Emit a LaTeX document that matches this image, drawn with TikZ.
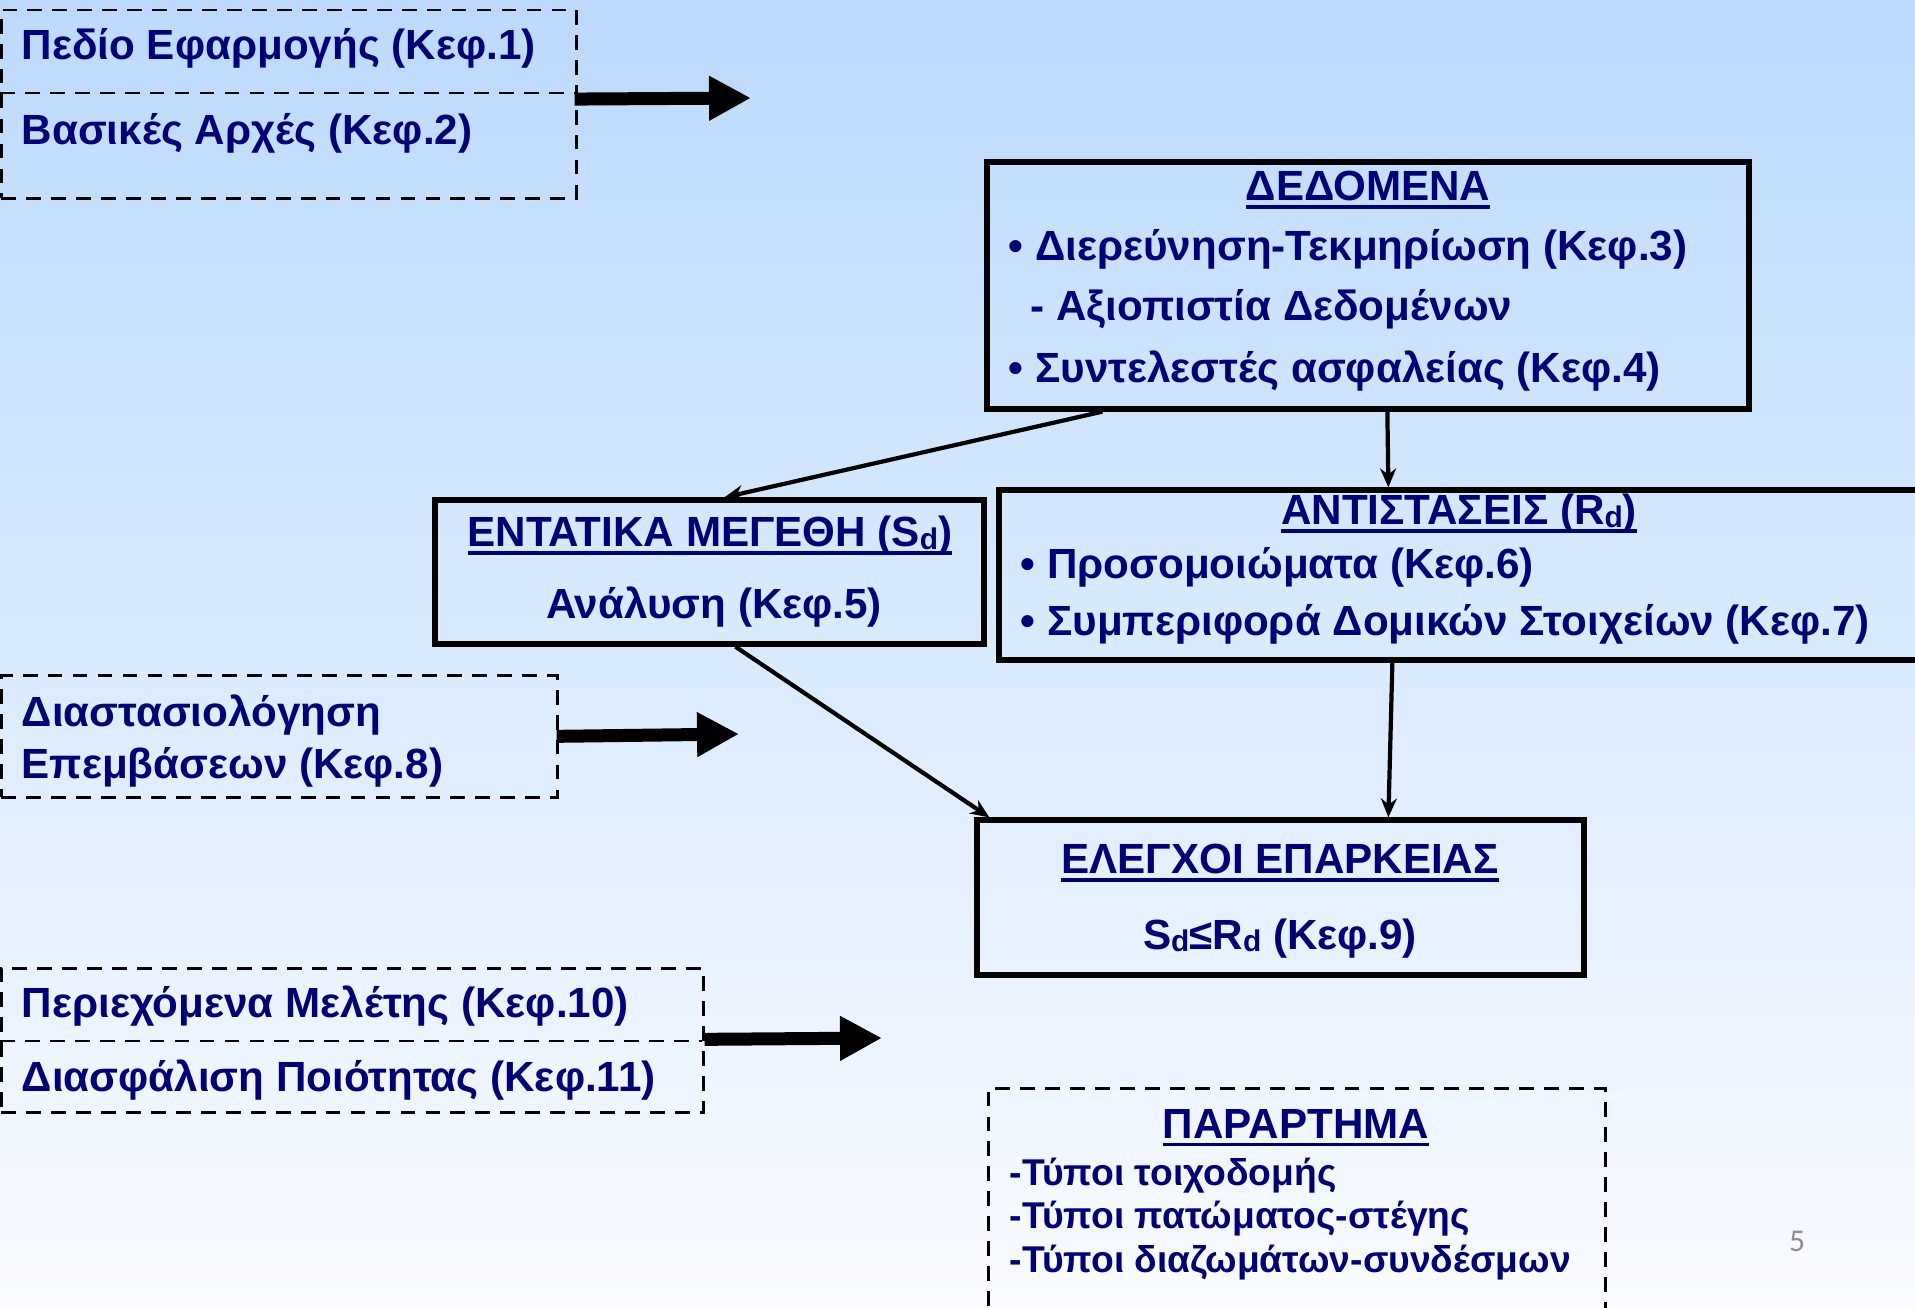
\documentclass[tikz,border=0pt]{standalone}
\usepackage{fontspec}
\setmainfont{Liberation Sans}
\newfontfamily\slidenumfont{Carlito}
\usepackage{tikz}
\usetikzlibrary{arrows.meta, positioning}

\newcommand{\titleline}[1]{\leavevmode\setbox0=\hbox{#1}\rlap{\copy0}\rule[-2.2pt]{\wd0}{1pt}}
\newcommand{\lowd}{\raisebox{-0.7pt}{\fontsize{8.5}{9}\selectfont d}}

\definecolor{textnavy}{RGB}{0,0,120}
\definecolor{bgtop}{RGB}{187,218,254}
\definecolor{bgbottom}{RGB}{249,251,255}

\tikzset{
  every node/.style={text=textnavy, inner sep=0pt,
    font=\bfseries\fontsize{12}{15}\selectfont},
  solidbox/.style={draw=black, line width=1.5pt},
  dashbox/.style={draw=black, line width=0.75pt, dash pattern=on 4.2pt off 2.9pt},
  bigarrow/.style={line width=0.13cm, -{Triangle[length=0.42cm,width=0.42cm]}},
  thinarrow/.style={line width=1.2pt, -{Stealth[length=0.19cm,width=0.16cm]}},
  smalltext/.style={font=\bfseries\fontsize{10.6}{12.5}\selectfont}
}

\begin{document}
\begin{tikzpicture}
          \useasboundingbox (0,0) rectangle (19.15,-13.07);
          \clip (0,0) rectangle (19.15,-13.07);
          \shade[top color=bgtop, bottom color=bgbottom] (0,0) rectangle (19.15,-13.07);

          % left column, dashed boxes
          \node[dashbox, anchor=north west, minimum width=5.75cm, minimum height=1.885cm] (pedio) at (0,-0.085) {};
          \draw[dashbox] (0,-0.93) -- (5.75,-0.93);
          \node[anchor=west] (pediotext) at (0.21,-0.485) {Πεδίο Εφαρμογής (Κεφ.1)};
          \node[anchor=west] (basikestext) at (0.21,-1.335) {Βασικές Αρχές (Κεφ.2)};

          \node[dashbox, anchor=north west, minimum width=5.56cm, minimum height=1.22cm] (diast) at (0,-6.74) {};
          \node[anchor=west, align=left] (diasttext) at (0.21,-7.41) {Διαστασιολόγηση\\Επεμβάσεων (Κεφ.8)};

          \node[dashbox, anchor=north west, minimum width=7.02cm, minimum height=1.44cm] (periexomena) at (0,-9.67) {};
          \draw[dashbox] (0,-10.41) -- (7.02,-10.41);
          \node[anchor=west] (periexomenatext) at (0.21,-10.065) {Περιεχόμενα Μελέτης (Κεφ.10)};
          \node[anchor=west] (diasfalisitext) at (0.21,-10.805) {Διασφάλιση Ποιότητας (Κεφ.11)};

          \coordinate (pedioend) at (7.51,-0.98);
          \coordinate (diastend) at (7.39,-7.34);
          \coordinate (periexomenaend) at (8.82,-10.38);

          \draw[bigarrow] ([xshift=-0.03cm,yshift=0.05cm]pedio.east) -- (pedioend);
          \draw[bigarrow] ([xshift=-0.02cm]diast.east) -- (diastend);
          \draw[bigarrow] ([yshift=0.01cm]periexomena.east) -- (periexomenaend);

          % main boxes
          \node[solidbox, minimum width=7.62cm, minimum height=2.47cm] (dedomena) at (13.68,-2.855) {};
          \node (dedomenatitle) at (13.68,-1.90) {\titleline{ΔΕΔΟΜΕΝΑ}};
          \node[anchor=west] (dedomena1) at (10.08,-2.495) {• Διερεύνηση-Τεκμηρίωση (Κεφ.3)};
          \node[anchor=west] (dedomena2) at (10.30,-3.095) {- Αξιοπιστία Δεδομένων};
          \node[anchor=west] (dedomena3) at (10.08,-3.715) {• Συντελεστές ασφαλείας (Κεφ.4)};

          \node[solidbox, minimum width=5.49cm, minimum height=1.44cm] (entatika) at (7.095,-5.72) {};
          \node (entatikatitle) at (7.10,-5.36) {\titleline{ΕΝΤΑΤΙΚΑ ΜΕΓΕΘΗ (S\lowd)}};
          \node (analysi) at (7.14,-6.075) {Ανάλυση (Κεφ.5)};

          \node[solidbox, minimum width=9.51cm, minimum height=1.70cm] (antistaseis) at (14.745,-5.75) {};
          \node (antistaseistitle) at (14.59,-5.14) {\titleline{ΑΝΤΙΣΤΑΣΕΙΣ (R\lowd)}};
          \node[anchor=west] (antistaseis1) at (10.20,-5.675) {• Προσομοιώματα (Κεφ.6)};
          \node[anchor=west] (antistaseis2) at (10.20,-6.245) {• Συμπεριφορά Δομικών Στοιχείων (Κεφ.7)};

          \node[solidbox, minimum width=6.07cm, minimum height=1.55cm] (elegxoi) at (12.805,-8.975) {};
          \node (elegxoititle) at (12.80,-8.63) {\titleline{ΕΛΕΓΧΟΙ ΕΠΑΡΚΕΙΑΣ}};
          \node (elegxoitext) at (12.80,-9.385) {S\lowd≤R\lowd\ (Κεφ.9)};

          \draw[thinarrow] ([xshift=1.18cm]dedomena.south west) -- ([xshift=2.92cm]entatika.north west);
          \draw[thinarrow] ([xshift=4.03cm]dedomena.south west) -- ([xshift=3.92cm]antistaseis.north west);
          \draw[thinarrow] ([xshift=3.03cm]entatika.south west) -- ([xshift=0.15cm]elegxoi.north west);
          \draw[thinarrow] ([xshift=3.96cm]antistaseis.south west) -- ([xshift=4.14cm]elegxoi.north west);

          % appendix
          \node[dashbox, anchor=north west, minimum width=6.17cm, minimum height=2.6cm] (parartima) at (9.87,-10.87) {};
          \node (parartimatitle) at (12.96,-11.28) {\titleline{ΠΑΡΑΡΤΗΜΑ}};
          \node[smalltext, anchor=west, align=left] (parartimaitems) at (10.09,-12.19)
                {-Τύποι τοιχοδομής\\-Τύποι πατώματος-στέγης\\-Τύποι διαζωμάτων-συνδέσμων};

          \node[text=black!45, font=\slidenumfont\fontsize{9}{10}\selectfont] (slidenum) at (17.97,-12.41) {5};
\end{tikzpicture}
\end{document}
